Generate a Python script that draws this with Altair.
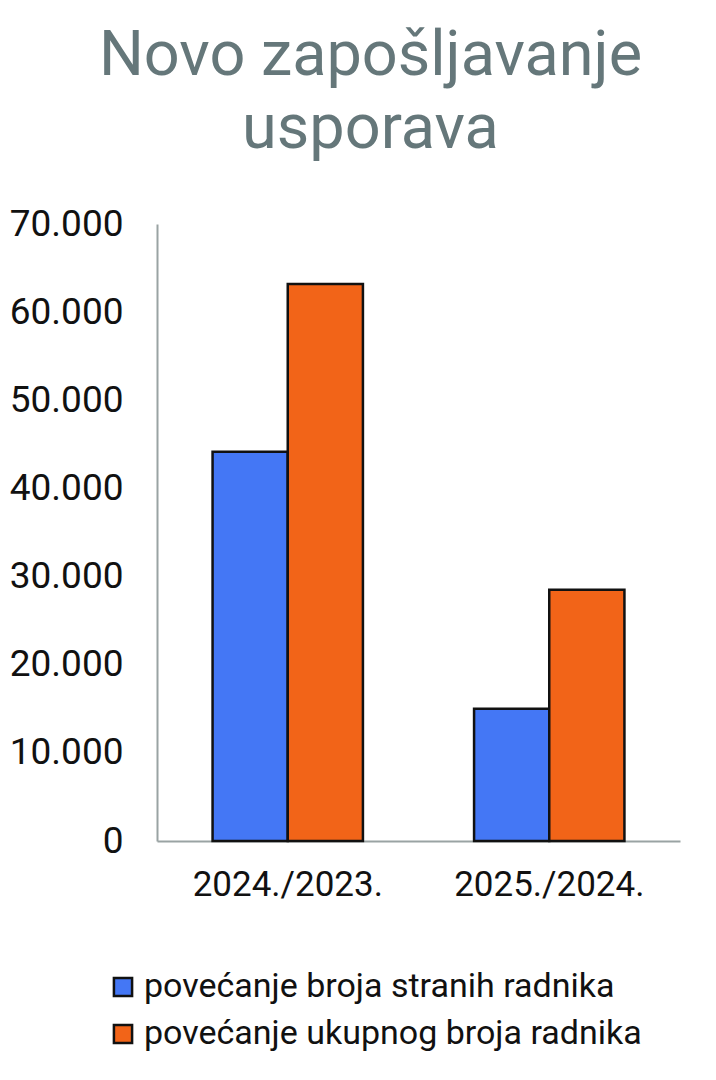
import altair as alt
import pandas as pd

periods = ["2024./2023.", "2025./2024."]
series = ["povećanje broja stranih radnika", "povećanje ukupnog broja radnika"]
foreign = [44150, 15000]
total = [63200, 28500]
colors = ["#4477f5", "#f26418"]

rows = []
for i, p in enumerate(periods):
    rows.append({"period": p, "series": series[0], "value": foreign[i]})
    rows.append({"period": p, "series": series[1], "value": total[i]})
df = pd.DataFrame(rows)

FONT = "Roboto"

chart = alt.Chart(df).mark_bar(stroke="#111111", strokeWidth=2.5).encode(
    x=alt.X("period:N", sort=periods, title=None,
            scale=alt.Scale(paddingInner=0.425, paddingOuter=0.2125),
            axis=alt.Axis(labelAngle=0, labelFontSize=35, labelColor="#111111",
                          labelFont=FONT, labelPadding=26, ticks=False, labelLimit=400,
                          domainColor="#9aa3a3", domainWidth=2)),
    xOffset=alt.XOffset("series:N", sort=series),
    y=alt.Y("value:Q", title=None,
            scale=alt.Scale(domain=[0, 70000]),
            axis=alt.Axis(values=[0, 10000, 20000, 30000, 40000, 50000, 60000, 70000],
                          labelExpr="replace(format(datum.value, ',d'), ',', '.')",
                          labelFontSize=37, labelColor="#111111", labelFont=FONT,
                          labelPadding=34, ticks=False, grid=False,
                          domainColor="#9aa3a3", domainWidth=2)),
    color=alt.Color("series:N", sort=series,
                    scale=alt.Scale(domain=series, range=colors),
                    legend=alt.Legend(title=None, orient="none", legendX=-51, legendY=746,
                                      symbolType="square", symbolSize=330,
                                      symbolStrokeColor="#111111", symbolStrokeWidth=2.5,
                                      labelFontSize=34, labelFont=FONT, labelColor="#111111",
                                      rowPadding=13, labelLimit=600, labelOffset=4)),
).properties(
    width=523,
    height=617,
    title=alt.TitleParams(
        text=["Novo zapošljavanje", "usporava"],
        fontSize=63, font=FONT, fontWeight="normal", color="#65777a",
        anchor="middle", dx=-48, offset=44, lineHeight=73,
    ),
    autosize=alt.AutoSizeParams(type="none"),
    padding={"left": 149, "top": 216, "right": 20, "bottom": 215},
).configure_view(stroke=None)

chart.save("out.html", embed_options={"renderer": "svg", "actions": False})
